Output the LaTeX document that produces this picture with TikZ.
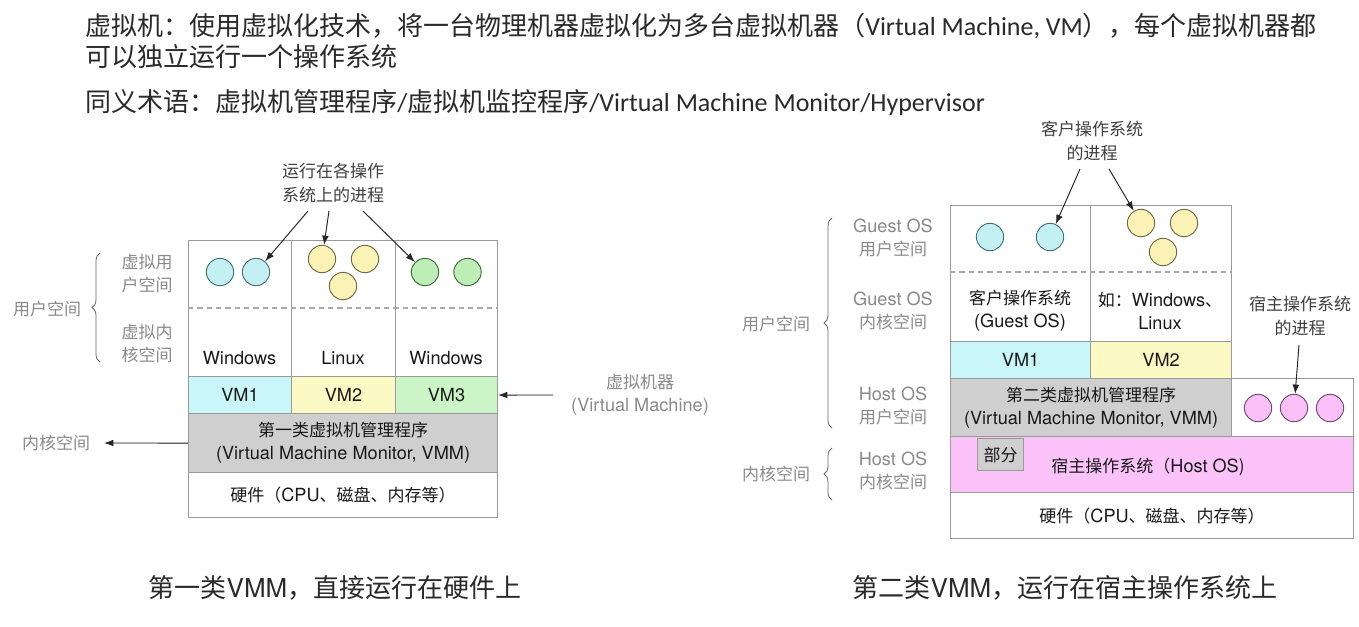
\documentclass[tikz,border=0pt]{standalone}
\usepackage{fontspec}
\setmainfont{Noto Sans CJK SC}
\newfontfamily\carl{Carlito}
\newfontfamily\heros{TeX Gyre Heros}
\usetikzlibrary{arrows.meta,decorations.pathreplacing}
\newcommand\hv[1]{{\heros\fontsize{13.6}{17.5}\selectfont #1}}
\newcommand\hvc[1]{{\heros\fontsize{19.5}{22}\selectfont #1}}
\definecolor{bd}{HTML}{9A9A9A}
\definecolor{lg}{HTML}{8A8A8A}
\definecolor{cyanF}{HTML}{C9F6F8}
\definecolor{cyanC}{HTML}{C3F0F2}
\definecolor{cyanS}{HTML}{466F72}
\definecolor{yelF}{HTML}{FDF9C4}
\definecolor{yelC}{HTML}{FBF3B5}
\definecolor{yelS}{HTML}{6E6A45}
\definecolor{greF}{HTML}{CBF5C6}
\definecolor{greC}{HTML}{BDEEB8}
\definecolor{greS}{HTML}{3F6A3C}
\definecolor{greyF}{HTML}{CFCFCF}
\definecolor{pinkF}{HTML}{FCC3FA}
\definecolor{pinkC}{HTML}{F9C0F7}
\definecolor{pinkS}{HTML}{6E4A6E}
\definecolor{hdr}{HTML}{2A2A2A}
\begin{document}
\begin{tikzpicture}[x=0.75pt,y=-0.75pt,
  box/.style 2 args={draw=bd, line width=0.8pt, inner sep=0pt, anchor=north west,
     minimum width=#1*0.75pt, minimum height=#2*0.75pt, align=center,
     font=\fontsize{12.75}{17.5}\selectfont, text=black!90},
  dtxt/.style={font=\fontsize{12.75}{17.5}\selectfont, align=center, text=black!90, inner sep=0pt},
  gl/.style={font=\fontsize{12.75}{17.5}\selectfont, align=center, text=lg, inner sep=0pt},
  proc/.style={circle, line width=0.7pt, minimum size=20.5pt, inner sep=0pt},
  pc/.style={proc, fill=cyanC, draw=cyanS},
  py/.style={proc, fill=yelC, draw=yelS},
  pg/.style={proc, fill=greC, draw=greS},
  pp/.style={proc, fill=pinkC, draw=pinkS},
  arr/.style={-{Latex[length=7pt,width=5pt]}, line width=0.7pt, draw=black!85, fill=black!85},
  brc/.style={decorate, decoration={brace, amplitude=6pt}, line width=0.6pt, draw=black!60},
  dsh/.style={draw=bd!85, line width=0.8pt, dash pattern=on 4pt off 3pt},
  hd/.style={anchor=west, inner sep=0pt, font=\fontsize{19.5}{22}\selectfont, text=hdr},
  captxt/.style={inner sep=0pt, font=\fontsize{19.5}{22}\selectfont, text=hdr}
]
\useasboundingbox[fill=white] (0,0) rectangle (1359,626);

% ---------- header ----------
\node[hd] (h1) at (85,26) {虚拟机：使用虚拟化技术，将一台物理机器虚拟化为多台虚拟机器（{\carl Virtual Machine, VM}），每个虚拟机器都};
\node[hd] (h2) at (85,57) {可以独立运行一个操作系统};
\node[hd] (h3) at (85,103) {同义术语：虚拟机管理程序{\carl /}虚拟机监控程序{\carl /Virtual Machine Monitor/Hypervisor}};

% ---------- left diagram (type 1) ----------
\node[box={103}{136}] (lc1) at (188,240) {};
\node[box={104}{136}] (lc2) at (291,240) {};
\node[box={102}{136}] (lc3) at (395,240) {};
\draw[dsh] (188,308) -- (497,308);
\node[dtxt] (win1) at (239.5,358) {\hv{Windows}};
\node[dtxt] (lin1) at (343,358) {\hv{Linux}};
\node[dtxt] (win2) at (446,358) {\hv{Windows}};
\node[box={103}{37}, fill=cyanF] (vm1) at (188,376) {\hv{VM1}};
\node[box={104}{37}, fill=yelF] (vm2) at (291,376) {\hv{VM2}};
\node[box={102}{37}, fill=greF] (vm3) at (395,376) {\hv{VM3}};
\node[box={309}{59}, fill=greyF] (vmm1) at (188,413) {第一类虚拟机管理程序\\\hv{(Virtual Machine Monitor, VMM)}};
\node[box={309}{45}] (hw1) at (188,472) {硬件（\hv{CPU}、磁盘、内存等）};

\node[pc] (a1) at (220,272) {};
\node[pc] (a2) at (256,272) {};
\node[py] (b1) at (322,259) {};
\node[py] (b2) at (365,259) {};
\node[py] (b3) at (343,286) {};
\node[pg] (g1) at (425,272) {};
\node[pg] (g2) at (467.5,272) {};

\node[gl, text=black!75] (procL) at (333,183) {运行在各操作\\系统上的进程};
\coordinate (s1) at (308,211);
\coordinate (s2) at (329,211);
\coordinate (s3) at (363,211);
\draw[arr] (s1) -- (a2);
\draw[arr] (s2) -- (b1);
\draw[arr] (s3) -- (g1);

\draw[brc] (100,362) -- (100,253);
\node[gl] (usrL) at (47,309) {用户空间};
\node[gl] (vusr) at (147,273.5) {虚拟用\\户空间};
\node[gl] (vker) at (147,343.5) {虚拟内\\核空间};
\node[gl] (kerL) at (56,443) {内核空间};
\coordinate (kerEnd) at (104,443);
\draw[arr] (vmm1.west) -- (kerEnd);
\node[gl] (vmL) at (640,395) {虚拟机器\\\hv{(Virtual Machine)}};
\coordinate (vms) at (553,395);
\draw[arr] (vms) -- (vm3.east);

\node[captxt] (cap1) at (335,588) {第一类\hvc{VMM}，直接运行在硬件上};

% ---------- right diagram (type 2) ----------
\node[box={140}{136}] (rc1) at (950,205) {};
\node[box={141}{136}] (rc2) at (1090,205) {};
\draw[dsh] (950,272) -- (1231,272);
\node[dtxt] (gos) at (1020,311) {客户操作系统\\\hv{(Guest OS)}};
\node[dtxt] (gex) at (1160,311) {如：\hv{Windows}、\\\hv{Linux}};
\node[box={140}{37}, fill=cyanF] (rvm1) at (950,341) {\hv{VM1}};
\node[box={141}{37}, fill=yelF] (rvm2) at (1090,341) {\hv{VM2}};
\node[box={281}{58}, fill=greyF] (vmm2) at (950,378) {第二类虚拟机管理程序\\\hv{(Virtual Machine Monitor, VMM)}};
\node[box={122}{58}] (hp) at (1231,378) {};
\node[box={403}{56}, fill=pinkF] (hos) at (950,436) {};
\node[dtxt] (hostxt) at (1148,467) {宿主操作系统（\hv{Host OS})};
\node[box={46}{32}, fill=greyF] (bf) at (977,438) {部分};
\node[box={403}{46}] (hw2) at (950,492) {硬件（\hv{CPU}、磁盘、内存等）};

\node[pc] (c1) at (990,237) {};
\node[pc] (c2) at (1050,237) {};
\node[py] (y1) at (1141,223) {};
\node[py] (y2) at (1184,223) {};
\node[py] (y3) at (1163,252) {};
\node[pp] (p1) at (1258,408) {};
\node[pp] (p2) at (1294,408) {};
\node[pp] (p3) at (1330,408) {};

\node[gl, text=black!75] (gproc) at (1092,141) {客户操作系统\\的进程};
\coordinate (t1) at (1080,169);
\coordinate (t2) at (1109,169);
\draw[arr] (t1) -- (c2);
\draw[arr] (t2) -- (y1);
\node[gl, text=black!75] (hproc) at (1300,316) {宿主操作系统\\的进程};
\coordinate (t3) at (1299,345);
\draw[arr] (t3) -- (p2);

\node[gl] (gu) at (893,238) {\hv{Guest OS}\\用户空间};
\node[gl] (gk) at (893,311) {\hv{Guest OS}\\内核空间};
\node[gl] (hu) at (893,406) {\hv{Host OS}\\用户空间};
\node[gl] (hk) at (893,471) {\hv{Host OS}\\内核空间};
\draw[brc] (832,428) -- (832,218);
\draw[brc] (832,500) -- (832,448);
\node[gl] (usrR) at (776,324) {用户空间};
\node[gl] (kerR) at (776,474) {内核空间};

\node[captxt] (cap2) at (1065,588) {第二类\hvc{VMM}，运行在宿主操作系统上};
\end{tikzpicture}
\end{document}
